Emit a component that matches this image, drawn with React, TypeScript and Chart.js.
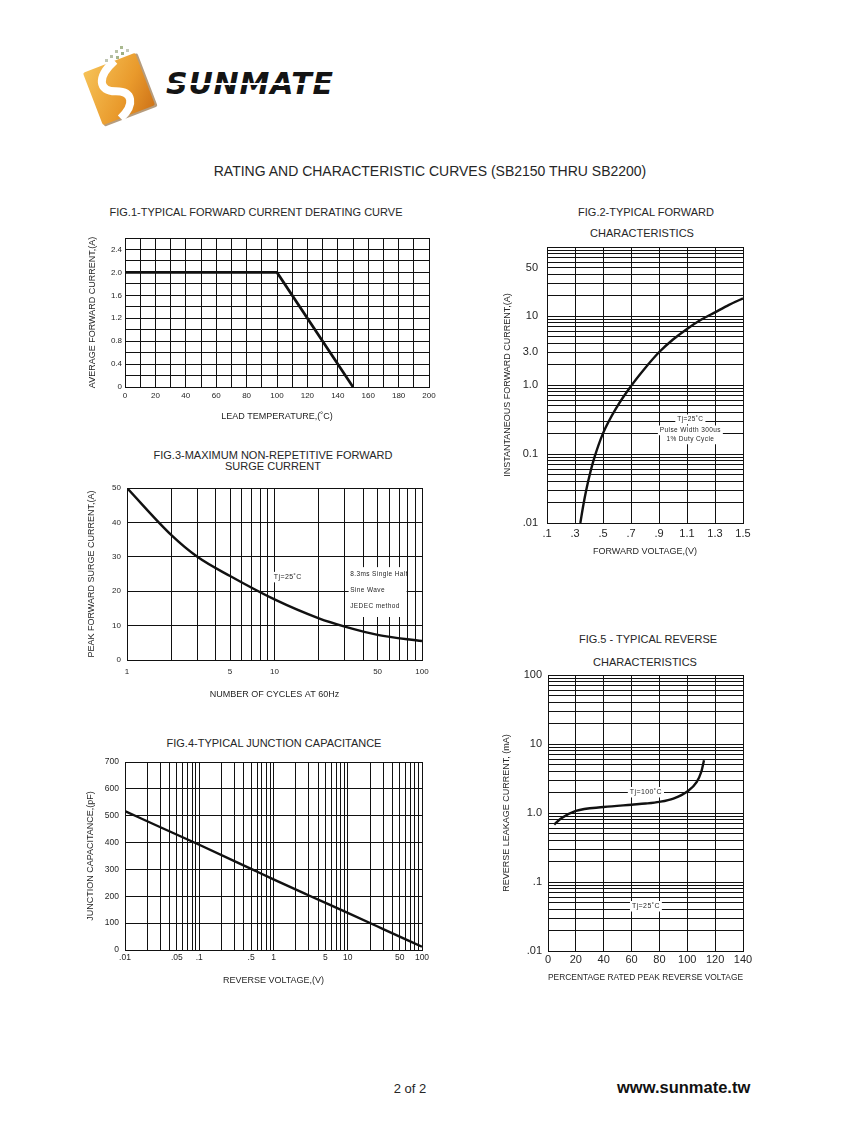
import React, { useEffect, useRef } from "react";
import { Chart, registerables } from "chart.js";

Chart.register(...registerables);

const FONT = "'Liberation Sans', Arial, Helvetica, sans-serif";
const INK = "#111111";
const TEXT = "#262626";

// ---------------- data ----------------
// Fig.1 derating curve
const fig1Temperature = [0, 100, 150];
const fig1Current = [2.0, 2.0, 0];
const fig1XGrid = [0, 10, 20, 30, 40, 50, 60, 70, 80, 90, 100, 110, 120, 130, 140, 150, 160, 170, 180, 190, 200];
const fig1XLabelValues = [0, 20, 40, 60, 80, 100, 120, 140, 160, 180, 200];
const fig1XLabels = ["0", "20", "40", "60", "80", "100", "120", "140", "160", "180", "200"];
const fig1YGrid = [0, 0.2, 0.4, 0.6, 0.8, 1.0, 1.2, 1.4, 1.6, 1.8, 2.0, 2.2, 2.4, 2.6];
const fig1YLabelValues = [0, 0.4, 0.8, 1.2, 1.6, 2.0, 2.4];
const fig1YLabels = ["0", "0.4", "0.8", "1.2", "1.6", "2.0", "2.4"];

// Fig.2 forward characteristics
const fig2Voltage = [0.338, 0.36, 0.38, 0.41, 0.44, 0.5, 0.6, 0.7, 0.8, 0.9, 1.0, 1.1, 1.2, 1.3, 1.4, 1.5];
const fig2Current = [0.01, 0.0184, 0.0298, 0.0547, 0.0906, 0.199, 0.483, 0.964, 1.75, 2.98, 4.56, 6.5, 8.8, 11.3, 14.5, 18.0];
const fig2XGrid = [0.1, 0.3, 0.5, 0.7, 0.9, 1.1, 1.3, 1.5];
const fig2XLabels = [".1", ".3", ".5", ".7", ".9", "1.1", "1.3", "1.5"];
const fig2YLabelValues = [0.01, 0.1, 1, 3, 10, 50];
const fig2YLabels = [".01", "0.1", "1.0", "3.0", "10", "50"];

// Fig.3 surge current
const fig3Cycles = [1, 2, 3, 5, 10, 20, 30, 50, 100];
const fig3Current = [50, 36.3, 30, 24.4, 17.6, 12.1, 9.7, 7.3, 5.5];
const fig3XLabelValues = [1, 5, 10, 50, 100];
const fig3XLabels = ["1", "5", "10", "50", "100"];
const fig3YGrid = [0, 10, 20, 30, 40, 50];
const fig3YLabels = ["0", "10", "20", "30", "40", "50"];

// Fig.4 junction capacitance
const fig4Voltage = [0.01, 0.03, 0.1, 0.5, 1, 3, 10, 30, 100];
const fig4Capacitance = [517, 457, 392, 302, 263, 203, 138, 78, 12];
const fig4XLabelValues = [0.01, 0.05, 0.1, 0.5, 1, 5, 10, 50, 100];
const fig4XLabels = [".01", ".05", ".1", ".5", "1", "5", "10", "50", "100"];
const fig4YGrid = [0, 100, 200, 300, 400, 500, 600, 700];
const fig4YLabels = ["0", "100", "200", "300", "400", "500", "600", "700"];

// Fig.5 reverse characteristics (Tj=100°C)
const fig5Percent = [4.5, 9.3, 20, 40, 60, 70, 80, 90, 100, 106.7, 110, 112];
const fig5Current = [0.68, 0.83, 1.07, 1.22, 1.32, 1.37, 1.45, 1.62, 2.05, 2.81, 3.93, 5.8];
const fig5XGrid = [0, 20, 40, 60, 80, 100, 120, 140];
const fig5XLabels = ["0", "20", "40", "60", "80", "100", "120", "140"];
const fig5YLabelValues = [0.01, 0.1, 1, 10, 100];
const fig5YLabels = [".01", ".1", "1.0", "10", "100"];

// ---------------- helpers ----------------
function logGrid(e0: number, e1: number): number[] {
  const out: number[] = [];
  for (let e = e0; e < e1; e++) {
    for (let m = 1; m <= 9; m++) out.push(Number((m * Math.pow(10, e)).toPrecision(6)));
  }
  out.push(Number(Math.pow(10, e1).toPrecision(6)));
  return out;
}

function labeler(values: number[], texts: string[]) {
  return (v: number) => {
    const i = values.findIndex((t) => Math.abs(t - v) <= 1e-6 * Math.max(Math.abs(t), 1e-9));
    return i >= 0 ? texts[i] : "";
  };
}

type AxisSpec = {
  type: "linear" | "logarithmic";
  min: number;
  max: number;
  grid: number[];
  labelValues: number[];
  labelTexts: string[];
  tickSize: number;
  tickPad: number;
  title: string;
};

type Box = {
  left: number;
  top: number;
  width: number;
  height: number;
  padL: number;
  padB: number;
};

const PAD_T = 22;
const PAD_R = 22;

type Note = { text: string; x: number; y: number; size: number; align?: "left" | "center"; bg?: boolean };
type Rect = { x0: number; x1: number; y0: number; y1: number };

function scaleOptions(a: AxisSpec, horizontal: boolean, size: number) {
  const lab = labeler(a.labelValues, a.labelTexts);
  return {
    type: a.type,
    min: a.min,
    max: a.max,
    position: horizontal ? "bottom" : "left",
    afterBuildTicks: (s: any) => {
      s.ticks = a.grid.map((value) => ({ value }));
    },
    afterFit: (s: any) => {
      if (horizontal) s.height = size;
      else s.width = size;
    },
    ticks: {
      autoSkip: false,
      maxRotation: 0,
      minRotation: 0,
      padding: a.tickPad,
      color: TEXT,
      font: { family: FONT, size: a.tickSize },
      callback: (v: any) => lab(Number(v)),
    },
    grid: { color: INK, lineWidth: 1, drawTicks: false },
    border: { display: true, color: INK, width: 1 },
    title: { display: true, text: a.title, color: TEXT, font: { family: FONT, size: 9 }, padding: 0 },
  };
}

function notesPlugin(rects: Rect[], notes: Note[]) {
  return {
    id: "notes",
    beforeDatasetsDraw(chart: any) {
      const { ctx } = chart;
      const xs = chart.scales.x;
      const ys = chart.scales.y;
      ctx.save();
      ctx.fillStyle = "#ffffff";
      for (const r of rects) {
        const X0 = xs.getPixelForValue(r.x0);
        const X1 = xs.getPixelForValue(r.x1);
        const Y0 = ys.getPixelForValue(r.y1);
        const Y1 = ys.getPixelForValue(r.y0);
        ctx.fillRect(X0, Y0, X1 - X0, Y1 - Y0);
      }
      for (const n of notes) {
        ctx.font = `${n.size}px ${FONT}`;
        try {
          (ctx as any).letterSpacing = "0.4px";
        } catch (e) {}
        const px = xs.getPixelForValue(n.x);
        const py = ys.getPixelForValue(n.y);
        const w = ctx.measureText(n.text).width;
        const left = n.align === "left" ? px : px - w / 2;
        if (n.bg) {
          ctx.fillStyle = "#ffffff";
          ctx.fillRect(left - 2, py - n.size * 0.75, w + 4, n.size * 1.5);
        }
        ctx.fillStyle = TEXT;
        ctx.textBaseline = "middle";
        ctx.textAlign = "left";
        ctx.fillText(n.text, left, py);
      }
      ctx.restore();
    },
  };
}

type FigSpec = {
  box: Box;
  xs: number[];
  ys: number[];
  x: AxisSpec;
  y: AxisSpec;
  lineWidth: number;
  smooth: boolean;
  rects?: Rect[];
  notes?: Note[];
};

function FigChart({ spec }: { spec: FigSpec }) {
  const ref = useRef<HTMLCanvasElement>(null);
  const { box } = spec;
  const w = box.width + box.padL + PAD_R;
  const h = box.height + PAD_T + box.padB;
  useEffect(() => {
    if (!ref.current) return;
    const chart = new Chart(ref.current, {
      type: "line",
      data: {
        datasets: [
          {
            data: spec.xs.map((x, i) => ({ x, y: spec.ys[i] })),
            borderColor: INK,
            borderWidth: spec.lineWidth,
            pointRadius: 0,
            fill: false,
            cubicInterpolationMode: spec.smooth ? "monotone" : "default",
            tension: 0,
            borderCapStyle: "butt",
            borderJoinStyle: "miter",
          } as any,
        ],
      },
      options: {
        responsive: false,
        animation: false,
        devicePixelRatio: 1,
        events: [],
        layout: { padding: { left: 0, top: PAD_T, right: PAD_R, bottom: 0 } },
        plugins: {
          legend: { display: false },
          tooltip: { enabled: false },
          title: { display: false },
        },
        scales: {
          x: scaleOptions(spec.x, true, box.padB) as any,
          y: scaleOptions(spec.y, false, box.padL) as any,
        },
      },
      plugins: [notesPlugin(spec.rects || [], spec.notes || [])],
    });
    return () => chart.destroy();
  }, []);
  return (
    <canvas
      ref={ref}
      width={w}
      height={h}
      style={{ position: "absolute", left: box.left - box.padL, top: box.top - PAD_T, width: w, height: h }}
    />
  );
}

const fig1: FigSpec = {
  box: { left: 125, top: 238, width: 304, height: 149, padL: 38, padB: 35 },
  xs: fig1Temperature,
  ys: fig1Current,
  x: { type: "linear", min: 0, max: 200, grid: fig1XGrid, labelValues: fig1XLabelValues, labelTexts: fig1XLabels, tickSize: 8, tickPad: 4, title: "LEAD TEMPERATURE,(˚C)" },
  y: { type: "linear", min: 0, max: 2.6, grid: fig1YGrid, labelValues: fig1YLabelValues, labelTexts: fig1YLabels, tickSize: 8, tickPad: 3, title: "AVERAGE FORWARD CURRENT,(A)" },
  lineWidth: 2.7,
  smooth: false,
};

const fig2: FigSpec = {
  box: { left: 547, top: 247, width: 196, height: 276, padL: 45, padB: 34 },
  xs: fig2Voltage,
  ys: fig2Current,
  x: { type: "linear", min: 0.1, max: 1.5, grid: fig2XGrid, labelValues: fig2XGrid, labelTexts: fig2XLabels, tickSize: 11, tickPad: 4, title: "FORWARD VOLTAGE,(V)" },
  y: { type: "logarithmic", min: 0.01, max: 100, grid: logGrid(-2, 2), labelValues: fig2YLabelValues, labelTexts: fig2YLabels, tickSize: 11, tickPad: 9, title: "INSTANTANEOUS FORWARD CURRENT,(A)" },
  lineWidth: 2.4,
  smooth: true,
  notes: [
    { text: "Tj=25˚C", x: 1.124, y: 0.318, size: 6.5, bg: true },
    { text: "Pulse Width 300us", x: 1.124, y: 0.22, size: 6.5, bg: true },
    { text: "1% Duty Cycle", x: 1.124, y: 0.163, size: 6.5, bg: true },
  ],
};

const fig3: FigSpec = {
  box: { left: 127, top: 488, width: 295, height: 172, padL: 41, padB: 40 },
  xs: fig3Cycles,
  ys: fig3Current,
  x: { type: "logarithmic", min: 1, max: 100, grid: logGrid(0, 2), labelValues: fig3XLabelValues, labelTexts: fig3XLabels, tickSize: 8, tickPad: 7, title: "NUMBER OF CYCLES AT 60Hz" },
  y: { type: "linear", min: 0, max: 50, grid: fig3YGrid, labelValues: fig3YGrid, labelTexts: fig3YLabels, tickSize: 8, tickPad: 6, title: "PEAK FORWARD SURGE CURRENT,(A)" },
  lineWidth: 2.4,
  smooth: true,
  rects: [{ x0: 31.8, x1: 78.7, y0: 12.5, y1: 27.0 }],
  notes: [
    { text: "Tj=25˚C", x: 12.3, y: 24.1, size: 7, bg: true },
    { text: "8.3ms Single Half", x: 32.6, y: 25.0, size: 6.5, align: "left" },
    { text: "Sine Wave", x: 32.6, y: 20.3, size: 6.5, align: "left" },
    { text: "JEDEC method", x: 32.6, y: 15.7, size: 6.5, align: "left" },
  ],
};

const fig4: FigSpec = {
  box: { left: 125, top: 762, width: 297, height: 188, padL: 40, padB: 36 },
  xs: fig4Voltage,
  ys: fig4Capacitance,
  x: { type: "logarithmic", min: 0.01, max: 100, grid: logGrid(-2, 2), labelValues: fig4XLabelValues, labelTexts: fig4XLabels, tickSize: 8.5, tickPad: 3, title: "REVERSE VOLTAGE,(V)" },
  y: { type: "linear", min: 0, max: 700, grid: fig4YGrid, labelValues: fig4YGrid, labelTexts: fig4YLabels, tickSize: 8.5, tickPad: 6, title: "JUNCTION CAPACITANCE,(pF)" },
  lineWidth: 2.4,
  smooth: true,
};

const fig5: FigSpec = {
  box: { left: 548, top: 675, width: 195, height: 276, padL: 47, padB: 32 },
  xs: fig5Percent,
  ys: fig5Current,
  x: { type: "linear", min: 0, max: 140, grid: fig5XGrid, labelValues: fig5XGrid, labelTexts: fig5XLabels, tickSize: 11, tickPad: 2, title: "PERCENTAGE RATED PEAK REVERSE VOLTAGE" },
  y: { type: "logarithmic", min: 0.01, max: 100, grid: logGrid(-2, 2), labelValues: fig5YLabelValues, labelTexts: fig5YLabels, tickSize: 11, tickPad: 6, title: "REVERSE LEAKAGE CURRENT, (mA)" },
  lineWidth: 2.4,
  smooth: true,
  notes: [
    { text: "Tj=100˚C", x: 70.3, y: 2.0, size: 7, bg: true },
    { text: "Tj=25˚C", x: 70.3, y: 0.0445, size: 7, bg: true },
  ],
};

function Label({ x, y, text, size, bold, align }: { x: number; y: number; text: string; size: number; bold?: boolean; align?: "left" | "center" }) {
  return (
    <div
      style={{
        position: "absolute",
        left: x,
        top: y,
        transform: align === "left" ? "translate(0,-50%)" : "translate(-50%,-50%)",
        fontFamily: FONT,
        fontSize: size,
        fontWeight: bold ? 700 : 400,
        lineHeight: 1,
        whiteSpace: "nowrap",
        color: bold ? "#111" : TEXT,
      }}
    >
      {text}
    </div>
  );
}

function Logo() {
  return (
    <>
      <svg style={{ position: "absolute", left: 0, top: 0 }} width={200} height={140}>
        <defs>
          <linearGradient id="sunGrad" x1="0" y1="0" x2="1" y2="1">
            <stop offset="0" stopColor="#f6c257" />
            <stop offset="0.6" stopColor="#e99a2c" />
            <stop offset="1" stopColor="#cf7418" />
          </linearGradient>
        </defs>
        <g transform="translate(119 89) rotate(-21)">
          <rect x={-27} y={-27} width={57} height={57} rx={2} fill="#7a4a12" opacity={0.55} />
          <rect x={-28} y={-28} width={56} height={56} rx={2} fill="url(#sunGrad)" />
          <path d="M 6 -28 C -17 -19, -20 -5, -4 1 C 12 7, 10 20, -9 28" stroke="#ffffff" strokeWidth={8} fill="none" strokeLinecap="butt" />
        </g>
        <rect x={120} y={46} width={3} height={3} fill="#a9b98f" />
        <rect x={115} y={50} width={3} height={3} fill="#b8c2a5" />
        <rect x={121} y={52} width={3} height={3} fill="#9fb082" />
        <rect x={110} y={55} width={3} height={3} fill="#b6bfa5" />
        <rect x={116} y={56} width={3} height={3} fill="#a4b48b" />
        <rect x={105} y={59} width={3} height={3} fill="#c0c6b3" />
        <rect x={126} y={49} width={3} height={3} fill="#c3c8b8" />
      </svg>
      <div
        style={{
          position: "absolute",
          left: 166,
          top: 69,
          fontFamily: "'DejaVu Sans', sans-serif",
          fontWeight: 700,
          fontStyle: "italic",
          fontSize: 30,
          lineHeight: "30px",
          letterSpacing: 0.8,
          color: "#141414",
          whiteSpace: "nowrap",
        }}
      >
        SUNMATE
      </div>
      <div style={{ position: "absolute", left: 166, top: 83, width: 175, height: 2, background: "#ffffff" }} />
    </>
  );
}

export default function App() {
  return (
    <div style={{ position: "absolute", left: 0, top: 0, width: 847, height: 1125, background: "#ffffff", overflow: "hidden" }}>
      <Logo />
      <Label x={430} y={171} text="RATING AND CHARACTERISTIC CURVES (SB2150 THRU SB2200)" size={14} />

      <Label x={256} y={211.5} text="FIG.1-TYPICAL FORWARD CURRENT DERATING CURVE" size={11} />
      <Label x={646} y={211.5} text="FIG.2-TYPICAL FORWARD" size={11} />
      <Label x={642} y={232.5} text="CHARACTERISTICS" size={11} />
      <Label x={273} y={455} text="FIG.3-MAXIMUM NON-REPETITIVE FORWARD" size={11} />
      <Label x={273} y={466} text="SURGE CURRENT" size={11} />
      <Label x={274} y={742.5} text="FIG.4-TYPICAL JUNCTION CAPACITANCE" size={11} />
      <Label x={648} y={639} text="FIG.5 - TYPICAL REVERSE" size={11} />
      <Label x={645} y={661.5} text="CHARACTERISTICS" size={11} />

      <FigChart spec={fig1} />
      <FigChart spec={fig2} />
      <FigChart spec={fig3} />
      <FigChart spec={fig4} />
      <FigChart spec={fig5} />

      <Label x={410} y={1088} text="2 of 2" size={13} />
      <Label x={617} y={1087} text="www.sunmate.tw" size={16.5} bold align="left" />
    </div>
  );
}
